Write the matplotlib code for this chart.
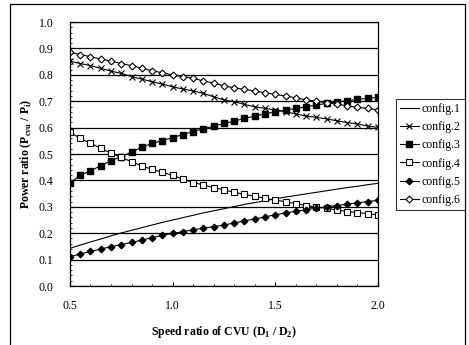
import numpy as np
import matplotlib.pyplot as plt
from matplotlib.patches import Rectangle

plt.rcParams['font.family'] = ['Liberation Serif', 'DejaVu Serif']
plt.rcParams['mathtext.fontset'] = 'custom'
plt.rcParams['mathtext.rm'] = 'Liberation Serif'
plt.rcParams['mathtext.bf'] = 'Liberation Serif:bold'

# speed ratio D1/D2
speed = [0.50, 0.55, 0.60, 0.65, 0.70, 0.75, 0.80, 0.85, 0.90, 0.95,
         1.00, 1.05, 1.10, 1.15, 1.20, 1.25, 1.30, 1.35, 1.40, 1.45,
         1.50, 1.55, 1.60, 1.65, 1.70, 1.75, 1.80, 1.85, 1.90, 1.95, 2.00]

config1 = [0.143, 0.155, 0.167, 0.178, 0.190, 0.201, 0.211, 0.221, 0.231, 0.241,
           0.250, 0.259, 0.268, 0.277, 0.285, 0.293, 0.301, 0.309, 0.316, 0.323,
           0.330, 0.337, 0.343, 0.349, 0.355, 0.361, 0.367, 0.373, 0.378, 0.384, 0.389]
config2 = [0.852, 0.843, 0.835, 0.825, 0.814, 0.806, 0.793, 0.784, 0.774, 0.765,
           0.755, 0.746, 0.739, 0.730, 0.717, 0.705, 0.698, 0.688, 0.679, 0.673,
           0.667, 0.660, 0.652, 0.644, 0.639, 0.633, 0.626, 0.619, 0.614, 0.606, 0.601]
config3 = [0.389, 0.420, 0.436, 0.456, 0.475, 0.490, 0.507, 0.526, 0.540, 0.551,
           0.562, 0.574, 0.585, 0.596, 0.605, 0.616, 0.625, 0.635, 0.644, 0.652,
           0.660, 0.667, 0.673, 0.679, 0.686, 0.692, 0.697, 0.702, 0.707, 0.711, 0.715]
config4 = [0.584, 0.559, 0.541, 0.522, 0.503, 0.487, 0.471, 0.455, 0.442, 0.431,
           0.419, 0.405, 0.392, 0.383, 0.373, 0.364, 0.355, 0.347, 0.340, 0.332,
           0.326, 0.319, 0.312, 0.305, 0.300, 0.294, 0.288, 0.282, 0.278, 0.274, 0.269]
config5 = [0.111, 0.121, 0.131, 0.140, 0.149, 0.157, 0.165, 0.174, 0.183, 0.192,
           0.199, 0.206, 0.213, 0.219, 0.225, 0.231, 0.239, 0.247, 0.254, 0.262,
           0.270, 0.277, 0.283, 0.289, 0.295, 0.300, 0.305, 0.310, 0.315, 0.320, 0.325]
config6 = [0.885, 0.877, 0.869, 0.860, 0.852, 0.843, 0.835, 0.825, 0.816, 0.808,
           0.800, 0.793, 0.787, 0.777, 0.769, 0.758, 0.751, 0.745, 0.739, 0.732,
           0.726, 0.720, 0.713, 0.705, 0.701, 0.694, 0.689, 0.683, 0.677, 0.673, 0.667]

labels = ['config.1', 'config.2', 'config.3', 'config.4', 'config.5', 'config.6']
xticks = [0.5, 1.0, 1.5, 2.0]
yticks = [0.0, 0.1, 0.2, 0.3, 0.4, 0.5, 0.6, 0.7, 0.8, 0.9, 1.0]

fig = plt.figure(figsize=(4.69, 3.45), dpi=100)
ax = fig.add_axes([0.149, 0.171, 0.657, 0.765])

series = [config1, config2, config3, config4, config5, config6]
styles = [
    dict(marker=None),
    dict(marker='x', ms=4, mew=0.8, mfc='black'),
    dict(marker='s', ms=4.4, mfc='black'),
    dict(marker='s', ms=4.4, mfc='white', mew=0.8),
    dict(marker='D', ms=3.3, mfc='black'),
    dict(marker='D', ms=3.5, mfc='white', mew=0.8),
]
for vals, lab, st in zip(series, labels, styles):
    ax.plot(speed, vals, color='black', lw=0.8, label=lab, **st)

ax.set_xlim(0.5, 2.0)
ax.set_ylim(0.0, 1.0)
ax.set_xticks(xticks)
ax.set_yticks(yticks)
ax.set_xticks(np.arange(0.5, 2.01, 0.1), minor=True)
ax.set_yticks(np.arange(0.0, 1.001, 0.02), minor=True)
ax.tick_params(axis='both', which='major', direction='in', length=3, labelsize=8.5)
ax.tick_params(axis='y', which='major', pad=12)
ax.tick_params(axis='x', which='major', pad=10)
ax.tick_params(axis='both', which='minor', direction='in', length=1.5)
ax.set_xticklabels([f'{v:.1f}' for v in xticks])
ax.set_yticklabels([f'{v:.1f}' for v in yticks])
ax.yaxis.grid(True, color='black', lw=0.9)
for sp in ax.spines.values():
    sp.set_linewidth(0.9)

ax.set_xlabel(r'Speed ratio of CVU (D$_{\mathbf{1}}$ / D$_{\mathbf{2}}$)',
              fontsize=8.5, fontweight='bold', labelpad=9)
ax.set_ylabel(r'Power ratio (P$_{\mathbf{cvu}}$ / P$_{\mathbf{i}}$)',
              fontsize=8.5, fontweight='bold', labelpad=3)

leg = fig.legend(loc='upper left', bbox_to_anchor=(0.844, 0.713), borderaxespad=0,
                 fontsize=8.5, frameon=True, fancybox=False, handlelength=1.6,
                 handletextpad=0.25, labelspacing=0.52, borderpad=0.35)
leg.get_frame().set_edgecolor('black')
leg.get_frame().set_linewidth(0.8)

fig.patches.append(Rectangle((10 / 469, -0.01), 455 / 469, 1 - 4 / 345 + 0.01,
                             transform=fig.transFigure, fill=False,
                             edgecolor='black', lw=0.9))

fig.savefig('out.png', dpi=100)
